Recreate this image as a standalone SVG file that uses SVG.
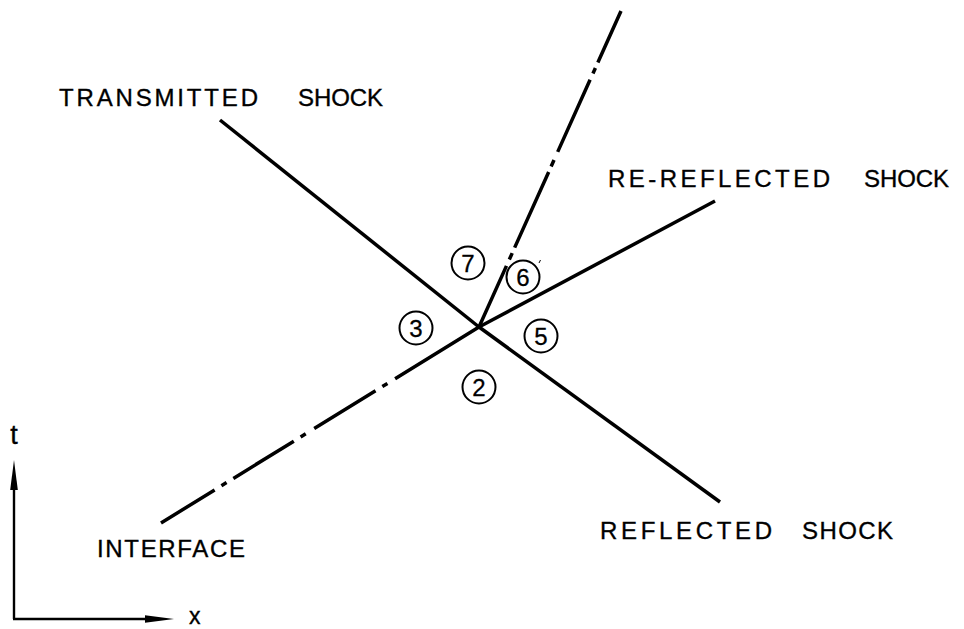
<svg xmlns="http://www.w3.org/2000/svg" width="964" height="629" viewBox="0 0 964 629">
<style>
.ln{stroke:#000;stroke-width:3.5;fill:none;stroke-linecap:butt}
.ax{stroke:#000;stroke-width:2.4;fill:none}
.lbl{font-family:"Liberation Sans",Arial,sans-serif;font-size:24px;fill:#000;stroke:#000;stroke-width:0.35}
.num{font-family:"Liberation Sans",Arial,sans-serif;font-size:24px;fill:#000;text-anchor:middle;stroke:#000;stroke-width:0.3}
.cir{stroke:#000;stroke-width:2;fill:none}
</style>
<rect width="964" height="629" fill="#fff"/>
<g id="connectors">
<line class="ln" x1="220" y1="120" x2="479" y2="327"/>
<line class="ln" x1="479" y1="327" x2="720" y2="502"/>
<line class="ln" x1="479" y1="327" x2="715" y2="201"/>
<path class="ln" d="M161,523 L479,327" stroke-dasharray="63 8 6 8 71 8 6 10 72 8 6 9 200"/>
<path class="ln" d="M479,327 L621,11" stroke-dasharray="67 7 7 6 83 6 7 9 79 7 6 6 80"/>
</g>
<g id="axes">
<line class="ax" x1="14" y1="619" x2="14" y2="480"/>
<polygon points="14,460 17.8,490 10.2,490" fill="#000"/>
<line class="ax" x1="13" y1="619" x2="150" y2="619"/>
<polygon points="174,619 145,615.2 145,622.8" fill="#000"/>
<text class="lbl" x="14" y="444" text-anchor="middle" style="font-size:27px">t</text>
<text class="lbl" x="189" y="624" style="font-size:23px">x</text>
</g>
<g id="transmitted-shock">
<text class="lbl" x="59" y="106" textLength="199" lengthAdjust="spacing">TRANSMITTED</text>
<text class="lbl" x="298" y="106" textLength="85" lengthAdjust="spacing">SHOCK</text>
</g>
<g id="re-reflected-shock">
<text class="lbl" x="608" y="187" textLength="222" lengthAdjust="spacing">RE-REFLECTED</text>
<text class="lbl" x="864" y="187" textLength="85" lengthAdjust="spacing">SHOCK</text>
</g>
<g id="reflected-shock">
<text class="lbl" x="600" y="539" textLength="172" lengthAdjust="spacing">REFLECTED</text>
<text class="lbl" x="802" y="539" textLength="91" lengthAdjust="spacing">SHOCK</text>
</g>
<g id="interface">
<text class="lbl" x="97" y="557" textLength="148" lengthAdjust="spacing">INTERFACE</text>
</g>
<g id="region-7">
<circle class="cir" cx="468" cy="263" r="16.5"/>
<text class="num" x="468" y="271.5">7</text>
</g>
<g id="region-6">
<circle class="cir" cx="523" cy="277" r="16.5"/>
<text class="num" x="523" y="285.5">6</text>
<line x1="539" y1="263" x2="540.5" y2="260" stroke="#000" stroke-width="1"/>
</g>
<g id="region-3">
<circle class="cir" cx="416" cy="328" r="16.5"/>
<text class="num" x="416" y="336.5">3</text>
</g>
<g id="region-5">
<circle class="cir" cx="541" cy="336" r="16.5"/>
<text class="num" x="541" y="344.5">5</text>
</g>
<g id="region-2">
<circle class="cir" cx="479" cy="387" r="16.5"/>
<text class="num" x="479" y="395.5">2</text>
</g>
</svg>
